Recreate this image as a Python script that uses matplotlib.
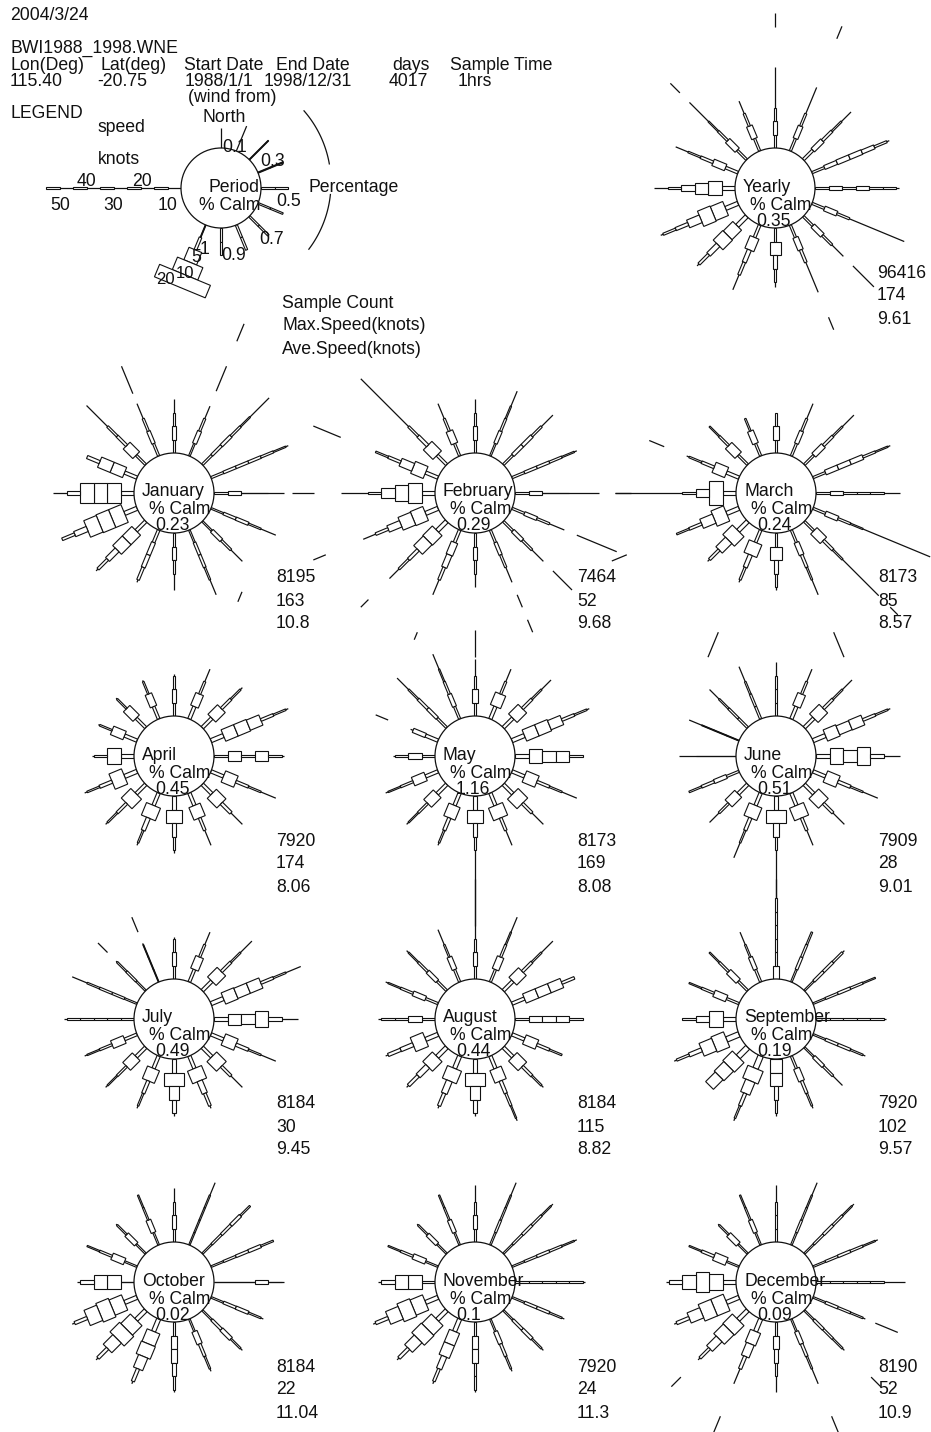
import numpy as np
import matplotlib
matplotlib.use('Agg')
import matplotlib.pyplot as plt
from matplotlib.patches import Polygon, Circle

plt.rcParams['font.family'] = ['Liberation Sans', 'DejaVu Sans']

# compass points, clockwise from north
directions = ['N', 'NNE', 'NE', 'ENE', 'E', 'ESE', 'SE', 'SSE',
              'S', 'SSW', 'SW', 'WSW', 'W', 'WNW', 'NW', 'NNW']
angles = np.arange(16) * 22.5

SEG = 5.0        # knots per speed class
PX_KNOT = 2.7    # ray length scale
PX_PCT = 2.75    # box width scale (percent of samples)
R = 40           # calm circle radius

names = ['Yearly', 'January', 'February', 'March', 'April', 'May', 'June',
         'July', 'August', 'September', 'October', 'November', 'December']
calm = ['0.35', '0.23', '0.29', '0.24', '0.45', '1.16', '0.51',
        '0.49', '0.44', '0.19', '0.02', '0.1', '0.09']
counts = ['96416', '8195', '7464', '8173', '7920', '8173', '7909',
          '8184', '8184', '7920', '8184', '7920', '8190']
max_speed = ['174', '163', '52', '85', '174', '169', '28',
             '30', '115', '102', '22', '24', '52']
ave_speed = ['9.61', '10.8', '9.68', '8.57', '8.06', '8.08', '9.01',
             '9.45', '8.82', '9.57', '11.04', '11.3', '10.9']

# percent of samples per 5-knot class, one list per direction (N..NNW)
yearly_bins = [[0.8, 1.8, 0.5], [0.8, 1.8, 0.8], [1.0, 1.8, 1.0, 0.6],
               [0.8, 1.5, 1.8, 1.8, 1.5, 0.8], [1.0, 1.8, 0.8, 1.8, 1.0, 0.8],
               [0.8, 1.8, 0.8], [0.8, 1.8, 0.8], [0.8, 2.0, 1.0],
               [0.8, 4.0, 1.5, 0.8], [1.0, 3.5, 1.5, 1.0], [1.5, 4.5, 5.0, 1.8, 1.0],
               [1.5, 5.5, 6.0, 3.0, 1.2, 0.8], [1.5, 5.0, 4.0, 2.2, 0.8],
               [1.0, 2.5, 1.0, 0.6], [0.8, 2.2, 0.8, 0.5], [0.8, 2.2, 0.8]]
yearly_tail = [30, 25.5, 25, 31, 31, 37, 21, 27, 22, 26, 26, 31, 30, 25, 30, 20]
yearly_far = {'N': [(45, 50)], 'NNE': [(45, 50)], 'SE': [(26, 37)],
              'SSE': [(37, 42)], 'NW': [(35, 40)]}

jan_bins = [[0.6, 1.2, 0.6], [0.6, 1.5, 0.8], [0.8, 1.0, 1.2, 0.8, 0.5],
            [0.8, 1.0, 1.0, 1.0, 0.8, 0.5], [0.6, 1.1, 0.3, 0.3],
            [0.6, 1.0, 1.2, 0.6], [0.6, 1.4, 0.8], [0.6, 1.0, 1.0, 0.6],
            [0.6, 1.2, 0.8], [1.0, 1.5, 1.5, 1.0], [1.2, 4.5, 4.5, 2.0, 1.0],
            [1.5, 7.0, 7.0, 6.5, 2.0, 1.0], [1.2, 7.0, 7.5, 7.5, 1.2],
            [1.2, 4.0, 4.0, 1.2], [0.8, 3.5, 1.0, 0.8], [0.8, 1.3, 0.8]]
jan_tail = [20, 20, 35, 31, 26, 26, 21, 26, 21, 21, 26, 30, 30, 20, 31, 21]
jan_far = {'NNE': [(26, 36), (46, 53)], 'E': [(29, 37)], 'NNW': [(25, 36)]}

feb_bins = [[0.6, 1.6, 0.8], [0.6, 1.3, 0.8, 0.5], [0.8, 1.3, 1.3, 0.8],
            [0.8, 1.0, 1.0, 0.8, 0.5], [0.6, 1.2, 0.3, 0.3], [0.8, 1.4, 0.8],
            [0.8, 1.4, 0.8], [0.8, 1.2, 0.8], [0.8, 1.8, 0.8],
            [1.0, 2.5, 2.0, 1.0], [1.5, 5.0, 4.5, 1.2, 0.8],
            [1.5, 5.5, 5.0, 2.5, 1.0], [1.2, 7.3, 6.0, 3.6, 1.0],
            [1.2, 4.7, 3.0, 1.0, 0.6], [1.0, 4.4, 1.2, 0.8], [0.8, 2.5, 0.8]]
feb_tail = [20, 26, 26, 26, 31, 21, 21, 21, 20, 26, 30, 30, 35, 25, 45, 21]
feb_far = {'E': [(37, 43)], 'ESE': [(26, 42)], 'SE': [(26, 36)],
           'SSE': [(26, 31), (36, 41)], 'SSW': [(41, 44)], 'SW': [(41, 45)],
           'WSW': [(45, 50)], 'WNW': [(39, 50)]}

mar_bins = [[0.8, 2.0, 0.6], [0.8, 1.5, 0.8], [0.8, 2.0, 1.0, 0.6],
            [0.8, 1.8, 1.8, 1.8, 0.8, 0.5], [0.8, 1.8, 1.0, 0.8, 0.5],
            [0.8, 1.8, 0.8, 0.5], [0.8, 3.3, 1.0, 0.6], [0.8, 1.8, 1.0, 0.6],
            [0.8, 4.4, 1.5, 0.8], [1.0, 5.0, 1.5, 0.8], [1.5, 6.0, 3.3, 1.0],
            [1.5, 6.0, 3.6, 1.0, 0.6], [1.2, 8.5, 3.2, 1.0],
            [1.2, 4.0, 1.0, 0.6], [0.8, 3.3, 0.8, 0.5], [0.8, 2.2, 0.6]]
mar_tail = [15, 21, 26, 31, 31, 47, 39, 26, 21, 21, 21, 25, 45, 21, 20, 15]
mar_far = {'SE': [(45, 49)], 'SSE': [(41, 51)], 'SSW': [(41, 51)],
           'WSW': [(45, 51)], 'WNW': [(30, 36)]}

apr_bins = [[1.0, 1.8, 0.6], [1.2, 3.0, 0.8], [1.2, 4.0, 1.0, 0.6],
            [1.5, 4.5, 4.5, 4.0, 1.0, 0.6], [1.0, 3.3, 1.0, 3.3, 1.0],
            [1.2, 4.4, 1.0, 0.6], [1.2, 4.7, 1.2], [1.2, 4.4, 1.0],
            [1.2, 6.0, 1.5, 0.6], [1.2, 5.5, 1.5, 0.6], [1.2, 5.5, 1.0, 0.6],
            [1.5, 6.0, 1.2, 0.6], [1.5, 5.5, 0.6], [1.2, 3.3, 0.6],
            [1.0, 3.3, 0.6], [1.0, 2.5, 0.6]]
apr_tail = [15.5, 20, 21, 31, 26, 26, 21, 21, 21, 21, 21, 21, 15.5, 15.5, 15.5, 15.5]
apr_far = {'NNE': [(47, 51)]}

may_bins = [[1.0, 2.5, 0.6], [1.2, 4.0, 0.8], [1.2, 4.4, 1.0, 0.6],
            [1.5, 4.4, 4.4, 3.6, 1.0, 0.6], [1.5, 4.8, 4.0, 4.0, 1.0],
            [1.2, 4.4, 1.0, 0.6], [1.2, 5.5, 1.0], [1.2, 5.5, 1.0],
            [1.2, 6.0, 1.8, 0.8], [1.2, 4.4, 1.2, 0.6], [1.2, 4.0, 0.8, 0.5],
            [1.2, 3.3, 0.8, 0.5], [1.0, 2.2, 0.6], [1.2, 1.6],
            [0.8, 1.2, 1.0, 0.6], [0.8, 1.5, 0.8, 0.5]]
may_tail = [21, 20, 25, 31, 25, 26, 21, 21, 48, 21, 21, 21, 15.5, 11, 26, 26]
may_far = {'N': [(22, 32)], 'WNW': [(20, 25)]}

jun_bins = [[0.8, 1.0, 0.8], [1.2, 3.0, 0.8], [1.2, 4.4, 1.0, 0.6],
            [1.5, 4.4, 3.5, 3.8, 1.0, 0.6], [1.8, 5.5, 4.4, 6.5, 1.5],
            [1.2, 4.4, 1.2, 0.6], [1.2, 5.0, 1.0], [1.2, 5.5, 1.0],
            [1.5, 7.0, 2.2, 1.0], [1.2, 5.0, 1.2, 0.6], [1.2, 3.6, 0.8],
            [0.8, 1.5, 1.0, 0.6], [0.3, 0.3, 0.3], [0.3, 0.3, 0.3],
            [0.8, 0.8, 0.6], [0.8, 0.8, 0.6]]
jun_tail = [20, 20, 25, 31, 31, 26, 21, 21, 48, 26, 20, 20, 21, 20, 20, 21]
jun_far = {}

jul_bins = [[0.8, 1.5, 0.6], [1.0, 3.0, 0.8], [1.2, 4.4, 1.0, 0.6],
            [1.5, 4.4, 4.0, 4.0, 1.0, 0.6], [1.5, 4.0, 3.3, 5.5, 1.8],
            [1.2, 4.4, 1.2, 0.6], [1.2, 5.0, 1.0], [1.2, 5.5, 2.0, 1.0],
            [1.5, 7.6, 3.3, 1.8], [1.2, 4.7, 1.2, 0.6], [1.2, 4.0, 0.8, 0.5],
            [1.0, 3.0, 0.8, 0.5], [0.6, 1.0, 0.8, 0.5, 0.5],
            [0.6, 0.8, 0.8, 0.6], [0.6, 0.8, 0.6], [0.3, 0.3, 0.3]]
jul_tail = [15.5, 20, 26, 36, 31, 26, 21, 21, 21, 21, 21, 21, 26, 26, 15.5, 15.5]
jul_far = {'NW': [(20, 25)], 'NNW': [(20, 26)]}

aug_bins = [[0.8, 1.5, 0.6], [0.8, 2.5, 0.8, 0.5], [1.2, 4.0, 1.0, 0.6],
            [1.2, 3.6, 3.6, 3.6, 1.0], [1.0, 2.5, 2.5, 2.5, 0.8],
            [1.2, 3.6, 1.0, 0.6], [1.2, 4.4, 1.0, 0.6], [1.2, 4.4, 1.2, 0.8, 0.5],
            [1.5, 7.3, 3.6, 1.8], [1.5, 5.5, 2.2, 1.2], [1.5, 5.0, 2.0, 1.2],
            [1.5, 5.5, 1.5, 1.2], [1.0, 2.5, 0.8, 0.5], [0.8, 1.8, 0.8, 0.5],
            [0.8, 1.5, 0.8, 0.5], [0.8, 1.8, 0.6]]
aug_tail = [37, 26, 26, 25, 25, 20, 21, 26, 21, 21, 21, 21, 21, 21, 21, 21]
aug_far = {}

sep_bins = [[2.2, 1.0, 1.0, 1.0, 0.8, 0.6], [0.6, 1.0, 0.8, 0.6],
            [0.6, 1.0, 1.0, 0.8], [0.6, 0.8, 1.0, 0.8, 0.5],
            [0.6, 1.0, 0.6, 0.5, 0.5], [0.6, 1.0, 1.0, 0.6], [0.6, 1.3, 0.8],
            [0.8, 2.2, 1.0, 0.6], [4.5, 4.5, 1.5, 1.0], [2.0, 6.0, 3.6, 1.2, 0.6],
            [2.0, 6.0, 5.0, 4.0], [2.0, 6.0, 5.0, 1.5, 0.8], [1.5, 5.5, 2.2, 1.0],
            [0.8, 2.5, 0.8, 0.5], [0.8, 2.2, 0.8, 0.5], [0.8, 1.5, 0.6]]
sep_tail = [37, 20, 21, 25, 26, 21, 20, 21, 21, 26, 20, 26, 20, 20, 20, 20]
sep_far = {}

oct_bins = [[0.6, 1.2, 0.6], [0.5, 0.5, 0.5, 0.5], [0.6, 0.8, 1.0, 1.2, 0.6],
            [0.6, 0.8, 1.0, 1.2, 0.6], [0.3, 0.3, 0.3, 1.2, 0.3],
            [0.6, 1.0, 1.2, 0.6], [0.6, 1.0, 1.5, 0.6], [0.6, 2.0, 1.0, 0.6],
            [1.0, 2.5, 2.5, 1.2, 0.6], [1.5, 5.0, 5.5, 3.6, 1.2],
            [1.5, 6.0, 7.3, 4.4, 1.2], [1.5, 6.0, 7.3, 6.0, 1.2],
            [0.3, 5.0, 5.0, 1.8], [0.6, 2.5, 0.8, 0.5], [0.6, 1.8, 0.6],
            [0.6, 1.8, 0.6, 0.5]]
oct_tail = [20, 25, 25, 25, 26, 21, 21, 21, 26, 26, 26, 26, 21, 20, 15.5, 20]
oct_far = {}

nov_bins = [[0.6, 1.2, 0.6], [0.6, 0.8, 0.6, 0.5], [0.6, 0.8, 1.0, 0.8, 0.5],
            [0.6, 0.8, 1.0, 0.8, 0.5], [0.5, 0.5, 0.5, 0.5, 0.5],
            [0.6, 1.0, 1.0, 0.6], [0.6, 1.0, 1.2, 0.6], [0.6, 1.5, 1.0, 0.6],
            [1.0, 2.0, 2.0, 1.0, 0.6], [1.5, 4.0, 4.0, 2.0, 1.0],
            [1.5, 6.0, 6.5, 4.0, 1.2], [1.5, 6.0, 7.0, 5.0, 1.2],
            [1.0, 5.0, 5.0, 1.5], [0.6, 2.0, 0.8, 0.5], [0.6, 1.5, 0.6],
            [0.6, 1.5, 0.6, 0.5]]
nov_tail = [21, 25, 26, 26, 26, 21, 21, 21, 26, 26, 26, 26, 21, 20, 15.5, 20]
nov_far = {}

dec_bins = [[0.6, 1.0, 0.6], [0.6, 0.8, 0.6, 0.5], [0.6, 0.8, 1.0, 0.8, 0.5],
            [0.6, 0.8, 1.0, 0.8, 0.5], [0.5, 0.5, 0.5, 0.5, 0.5],
            [0.6, 1.0, 0.8, 0.6], [0.6, 1.0, 0.8, 0.6], [0.6, 1.5, 1.0, 0.6],
            [1.0, 2.0, 1.5, 0.8], [1.5, 4.0, 3.0, 1.2], [1.5, 6.0, 5.5, 3.0, 1.0],
            [1.5, 6.5, 6.5, 4.0, 1.2], [1.5, 6.0, 7.0, 5.0, 1.5],
            [0.6, 3.0, 1.0, 0.5], [0.6, 2.0, 0.6], [0.6, 1.5, 0.6, 0.5]]
dec_tail = [21, 25, 26, 26, 33, 21, 21, 26, 26, 26, 26, 26, 26, 20, 15.5, 20]
dec_far = {'ESE': [(25, 34)], 'SE': [(35, 40)], 'SSE': [(39, 46)],
           'SSW': [(39, 46)], 'SW': [(35, 40)]}

# legend rose: speed scale to the west, widths 0.1..0.9 % round the east,
# and the 1/5/10/20 % boxes to the south-south-west
legend_bins = {'W': [0, 0.8, 0, 0.8, 0, 0.8, 0, 0.8, 0, 0.8],
               'N': [0.1], 'NNE': [0.2, 0.2], 'NE': [0.3, 0.3], 'ENE': [0.4, 0.4],
               'E': [0.5, 0.5], 'ESE': [0.6, 0.6], 'SE': [0.7, 0.7],
               'SSE': [0.8, 0.8], 'S': [0.9, 0.9], 'SSW': [0.3, 1, 5, 10, 20]}
legend_tail = {'N': 7.5}

rose_bins = [yearly_bins, jan_bins, feb_bins, mar_bins, apr_bins, may_bins,
             jun_bins, jul_bins, aug_bins, sep_bins, oct_bins, nov_bins, dec_bins]
rose_tail = [yearly_tail, jan_tail, feb_tail, mar_tail, apr_tail, may_tail,
             jun_tail, jul_tail, aug_tail, sep_tail, oct_tail, nov_tail, dec_tail]
rose_far = [yearly_far, jan_far, feb_far, mar_far, apr_far, may_far,
            jun_far, jul_far, aug_far, sep_far, oct_far, nov_far, dec_far]

INK = '#111111'
FS = 12.7


def point(cx, cy, r, th, off=0.0):
    ux, uy = np.sin(th), -np.cos(th)
    return cx + r * ux + off * np.cos(th), cy + r * uy + off * np.sin(th)


def draw_ray(ax, cx, cy, ang, widths, tail=0.0, far=()):
    th = np.radians(ang)
    seg_px = SEG * PX_KNOT
    r_end = max(R + tail * PX_KNOT, R + len(widths) * seg_px)
    x0, y0 = point(cx, cy, R, th)
    x1, y1 = point(cx, cy, r_end, th)
    ax.plot([x0, x1], [y0, y1], color=INK, lw=0.9, solid_capstyle='butt', zorder=2)
    for i, w in enumerate(widths):
        h = w * PX_PCT / 2
        if h < 0.4:
            continue
        r0 = R + i * seg_px
        r1 = r0 + seg_px
        pts = [point(cx, cy, r0, th, -h), point(cx, cy, r1, th, -h),
               point(cx, cy, r1, th, h), point(cx, cy, r0, th, h)]
        ax.add_patch(Polygon(pts, closed=True, fc='white', ec=INK, lw=0.8, zorder=3))
    for a, b in far:
        xa, ya = point(cx, cy, R + a * PX_KNOT, th)
        xb, yb = point(cx, cy, R + b * PX_KNOT, th)
        ax.plot([xa, xb], [ya, yb], color=INK, lw=0.9, solid_capstyle='butt', zorder=2)


def draw_circle(ax, cx, cy):
    ax.add_patch(Circle((cx, cy), R, fc='white', ec=INK, lw=0.9, zorder=4))


fig = plt.figure(figsize=(9.31, 14.32), dpi=100)
ax = fig.add_axes([0, 0, 1, 1])
ax.set_xlim(0, 931)
ax.set_ylim(1432, 0)
ax.axis('off')


def txt(x, y, s, **kw):
    ax.text(x, y, s, fontsize=kw.pop('fontsize', FS), color=INK, ha='left',
            va='center', zorder=6, **kw)


# header block
txt(10, 15, '2004/3/24')
txt(10, 48, 'BWI1988_1998.WNE')
for x, s in [(10, 'Lon(Deg)'), (101, 'Lat(deg)'), (184, 'Start Date'),
             (276, 'End Date'), (392, 'days'), (450, 'Sample Time')]:
    txt(x, 65, s)
for x, s in [(10, '115.40'), (97, '-20.75'), (185, '1988/1/1'),
             (264, '1998/12/31'), (389, '4017'), (458, '1hrs')]:
    txt(x, 81, s)
txt(188, 98, '(wind from)')
txt(10, 114, 'LEGEND')
txt(202, 118, 'North')
txt(98, 127, 'speed')
txt(98, 160, 'knots')

# legend rose
lcx, lcy = 221, 188
for d, w in legend_bins.items():
    k = directions.index(d)
    draw_ray(ax, lcx, lcy, angles[k], w, legend_tail.get(d, 0.0))
draw_circle(ax, lcx, lcy)
for x, y, s in [(77, 181, '40'), (132, 181, '20'), (50, 205, '50'),
                (103, 205, '30'), (158, 205, '10'),
                (222, 147, '0.1'), (260, 162, '0.3'), (276, 202, '0.5'),
                (259, 240, '0.7'), (221, 255, '0.9'),
                (200, 249, '1'), (191, 257, '5')]:
    txt(x, y, s)
txt(176, 274, '10', fontsize=12)
txt(156, 280, '20', fontsize=12)
txt(208, 187, 'Period')
txt(199, 206, '% Calm')
txt(309, 187, 'Percentage')
for a0, a1 in [(-41, -10), (6, 37)]:
    t = np.radians(np.linspace(a0, a1, 60))
    ax.plot(lcx + 110 * np.cos(t), 183 + 110 * np.sin(t), color=INK, lw=0.9)
txt(282, 303, 'Sample Count')
txt(282, 326, 'Max.Speed(knots)')
txt(282, 350, 'Ave.Speed(knots)')

# rose grid: yearly top right, then months in rows of three
centers = [(775, 188)]
for row in range(4):
    for col in range(3):
        centers.append((174 + 301 * col, 493 + 263 * row))

for n, (cx, cy) in enumerate(centers):
    for k in range(16):
        draw_ray(ax, cx, cy, angles[k], rose_bins[n][k], rose_tail[n][k],
                 rose_far[n].get(directions[k], ()))
for n, (cx, cy) in enumerate(centers):
    draw_circle(ax, cx, cy)
    txt(cx - 32, cy - 1, names[n])
    txt(cx - 25, cy + 17, '% Calm')
    txt(cx - 19, cy + 33, calm[n])
    txt(cx + 102, cy + 85, counts[n])
    txt(cx + 102, cy + 108, max_speed[n])
    txt(cx + 102, cy + 131, ave_speed[n])

fig.savefig('out.png', dpi=100, facecolor='white')
